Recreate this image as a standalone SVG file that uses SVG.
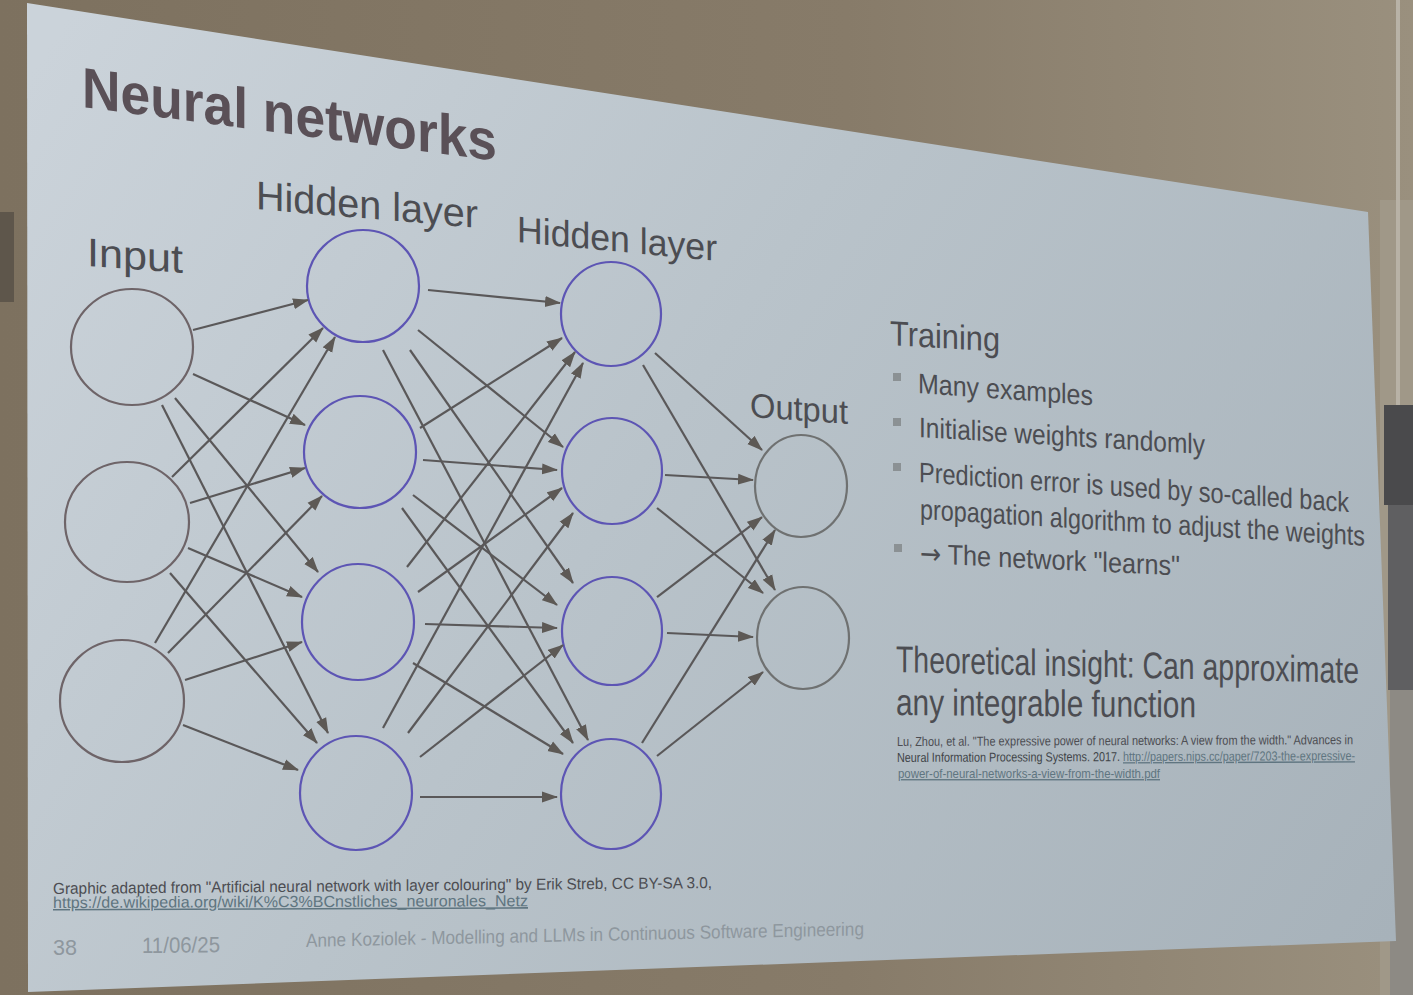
<svg xmlns="http://www.w3.org/2000/svg" width="1413" height="995" viewBox="0 0 1413 995">
<defs>
<linearGradient id="wall" x1="0" y1="0" x2="1413" y2="0" gradientUnits="userSpaceOnUse">
<stop offset="0" stop-color="#7d715f"/><stop offset="0.6" stop-color="#877b69"/><stop offset="1" stop-color="#9a907e"/>
</linearGradient>
<linearGradient id="slide" x1="40" y1="60" x2="1390" y2="940" gradientUnits="userSpaceOnUse">
<stop offset="0" stop-color="#cbd3da"/><stop offset="0.45" stop-color="#b9c3ca"/><stop offset="1" stop-color="#a7b2ba"/>
</linearGradient>
<marker id="ah" viewBox="0 0 16 12" refX="15" refY="6" markerWidth="16" markerHeight="12" markerUnits="userSpaceOnUse" orient="auto">
<path d="M0,0.5 L16,6 L0,11.5 z" fill="#5d5955"/>
</marker>
<style>
.t{font-family:"Liberation Sans",Arial,sans-serif;fill:#4c4d52}
.title{font-weight:bold;fill:#5a5057}
.ft{fill:#8e979e}
.url{fill:#5f7580;text-decoration:underline}
.c{fill:none;stroke-width:2.2}
.in{stroke:#6e6468}
.hd{stroke:#5d55b4}
.out{stroke:#6f7171}
.e line{stroke:#5a5859;stroke-width:2.2;marker-end:url(#ah)}
.bl{fill:#8b9194}
.ar{font-family:"DejaVu Sans",sans-serif}
</style>
</defs>
<rect x="0" y="0" width="1413" height="995" fill="url(#wall)"/>
<rect x="0" y="212" width="14" height="90" fill="#5e564b"/>
<rect x="1380" y="200" width="33" height="795" fill="#a09888"/>
<rect x="1396" y="0" width="4" height="995" fill="#b8b2a6"/>
<rect x="1384" y="405" width="29" height="100" fill="#4a4a4c"/>
<rect x="1388" y="505" width="25" height="185" fill="#5f5f61"/>
<rect x="1390" y="690" width="23" height="305" fill="#8d8a84"/>
<polygon points="27,3 1368,212 1396,941 28,992" fill="url(#slide)"/>

<g id="texts">
<text class="t title" transform="matrix(1,0.13,0,1,82,107)" font-size="57" textLength="415" lengthAdjust="spacingAndGlyphs">Neural networks</text>
<text class="t" transform="matrix(1,0.07,0,1,87,266)" font-size="40" textLength="96" lengthAdjust="spacingAndGlyphs">Input</text>
<text class="t" transform="matrix(1,0.085,0,1,256,209)" font-size="40" textLength="222" lengthAdjust="spacingAndGlyphs">Hidden layer</text>
<text class="t" transform="matrix(1,0.095,0,1,517,242)" font-size="37" textLength="200" lengthAdjust="spacingAndGlyphs">Hidden layer</text>
<text class="t" transform="matrix(1,0.07,0,1,750,417)" font-size="34" textLength="98" lengthAdjust="spacingAndGlyphs">Output</text>
<text class="t" transform="matrix(1,0.06,0,1.15,890,345)" font-size="30" textLength="110" lengthAdjust="spacingAndGlyphs">Training</text>
<rect class="bl" x="893" y="373" width="8" height="8"/>
<rect class="bl" x="893" y="418" width="8" height="8"/>
<rect class="bl" x="893" y="463" width="8" height="8"/>
<rect class="bl" x="894" y="544" width="8" height="8"/>
<text class="t" transform="matrix(1,0.07,0,1.2,918,393)" font-size="23.5" textLength="175" lengthAdjust="spacingAndGlyphs">Many examples</text>
<text class="t" transform="matrix(1,0.06,0,1.2,919,437)" font-size="23.5" textLength="286" lengthAdjust="spacingAndGlyphs">Initialise weights randomly</text>
<text class="t" transform="matrix(1,0.07,0,1.2,919,482)" font-size="23.5" textLength="430" lengthAdjust="spacingAndGlyphs">Prediction error is used by so-called back</text>
<text class="t" transform="matrix(1,0.06,0,1.2,920,519)" font-size="23.5" textLength="445" lengthAdjust="spacingAndGlyphs">propagation algorithm to adjust the weights</text>
<text class="t" transform="matrix(1,0.048,0,1.2,920,563)" font-size="23.5" textLength="260" lengthAdjust="spacingAndGlyphs"><tspan class="ar">→</tspan> The network "learns"</text>
<text class="t" transform="matrix(1,0.024,0,1.2,896,672)" font-size="31" textLength="463" lengthAdjust="spacingAndGlyphs">Theoretical insight: Can approximate</text>
<text class="t" transform="matrix(1,0.008,0,1.2,896,715)" font-size="31" textLength="300" lengthAdjust="spacingAndGlyphs">any integrable function</text>
<text class="t" transform="matrix(1,-0.004,0,1.2,897,746)" font-size="11" fill="#3f4448" textLength="456" lengthAdjust="spacingAndGlyphs">Lu, Zhou, et al. "The expressive power of neural networks: A view from the width."  Advances in</text>
<text class="t" transform="matrix(1,-0.004,0,1.2,897,762)" font-size="11" textLength="458" lengthAdjust="spacingAndGlyphs"><tspan fill="#3f4448">Neural Information Processing Systems. 2017. </tspan><tspan class="url">http://papers.nips.cc/paper/7203-the-expressive-</tspan></text>
<text class="t url" transform="matrix(1,0,0,1.2,898,778)" font-size="11" textLength="262" lengthAdjust="spacingAndGlyphs">power-of-neural-networks-a-view-from-the-width.pdf</text>
<text class="t" transform="matrix(1,-0.009,0,1,53,894)" font-size="16" fill="#4a4e56" textLength="659" lengthAdjust="spacingAndGlyphs">Graphic adapted from "Artificial neural network with layer colouring" by Erik Streb, CC BY-SA 3.0,</text>
<text class="t url" transform="matrix(1,-0.004,0,1,53,908)" font-size="16" textLength="475" lengthAdjust="spacingAndGlyphs">https://de.wikipedia.org/wiki/K%C3%BCnstliches_neuronales_Netz</text>
<text class="t ft" transform="matrix(1,0,0,1,53,955)" font-size="22" textLength="24" lengthAdjust="spacingAndGlyphs">38</text>
<text class="t ft" transform="matrix(1,-0.01,0,1,142,953)" font-size="22" textLength="78" lengthAdjust="spacingAndGlyphs">11/06/25</text>
<text class="t ft" transform="matrix(1,-0.021,0,1,306,947)" font-size="19" textLength="558" lengthAdjust="spacingAndGlyphs">Anne Koziolek - Modelling and LLMs in Continuous Software Engineering</text>
</g>

<g id="input-1"><ellipse class="c in" cx="132" cy="347" rx="61" ry="58"/></g>
<g id="input-2"><ellipse class="c in" cx="127" cy="522" rx="62" ry="60"/></g>
<g id="input-3"><ellipse class="c in" cx="122" cy="701" rx="62" ry="61"/></g>
<g id="hidden1-1"><ellipse class="c hd" cx="363" cy="286" rx="56" ry="56"/></g>
<g id="hidden1-2"><ellipse class="c hd" cx="360" cy="452" rx="56" ry="56"/></g>
<g id="hidden1-3"><ellipse class="c hd" cx="358" cy="622" rx="56" ry="58"/></g>
<g id="hidden1-4"><ellipse class="c hd" cx="356" cy="793" rx="56" ry="57"/></g>
<g id="hidden2-1"><ellipse class="c hd" cx="611" cy="314" rx="50" ry="52"/></g>
<g id="hidden2-2"><ellipse class="c hd" cx="612" cy="471" rx="50" ry="53"/></g>
<g id="hidden2-3"><ellipse class="c hd" cx="612" cy="631" rx="50" ry="54"/></g>
<g id="hidden2-4"><ellipse class="c hd" cx="611" cy="794" rx="50" ry="55"/></g>
<g id="output-1"><ellipse class="c out" cx="801" cy="486" rx="46" ry="51"/></g>
<g id="output-2"><ellipse class="c out" cx="803" cy="638" rx="46" ry="51"/></g>

<g id="connectors" class="e">
<line x1="193" y1="330" x2="308" y2="300"/>
<line x1="193" y1="374" x2="305" y2="425"/>
<line x1="175" y1="398" x2="318" y2="572"/>
<line x1="162" y1="405" x2="328" y2="733"/>
<line x1="172" y1="477" x2="323" y2="328"/>
<line x1="190" y1="503" x2="305" y2="468"/>
<line x1="188" y1="548" x2="302" y2="597"/>
<line x1="170" y1="573" x2="317" y2="743"/>
<line x1="155" y1="643" x2="335" y2="337"/>
<line x1="168" y1="653" x2="322" y2="496"/>
<line x1="185" y1="680" x2="302" y2="642"/>
<line x1="183" y1="725" x2="298" y2="770"/>
<line x1="428" y1="290" x2="560" y2="303"/>
<line x1="418" y1="330" x2="563" y2="447"/>
<line x1="410" y1="350" x2="573" y2="583"/>
<line x1="383" y1="350" x2="588" y2="740"/>
<line x1="420" y1="428" x2="562" y2="338"/>
<line x1="423" y1="460" x2="557" y2="470"/>
<line x1="413" y1="495" x2="557" y2="605"/>
<line x1="402" y1="508" x2="573" y2="743"/>
<line x1="407" y1="567" x2="575" y2="352"/>
<line x1="418" y1="592" x2="562" y2="488"/>
<line x1="425" y1="624" x2="557" y2="628"/>
<line x1="413" y1="663" x2="563" y2="754"/>
<line x1="383" y1="728" x2="583" y2="363"/>
<line x1="408" y1="733" x2="573" y2="513"/>
<line x1="420" y1="757" x2="563" y2="645"/>
<line x1="420" y1="797" x2="557" y2="797"/>
<line x1="655" y1="353" x2="762" y2="450"/>
<line x1="643" y1="365" x2="775" y2="590"/>
<line x1="665" y1="475" x2="753" y2="480"/>
<line x1="657" y1="508" x2="763" y2="593"/>
<line x1="657" y1="597" x2="762" y2="517"/>
<line x1="667" y1="633" x2="753" y2="637"/>
<line x1="642" y1="743" x2="775" y2="530"/>
<line x1="657" y1="756" x2="763" y2="672"/>
</g>
</svg>
